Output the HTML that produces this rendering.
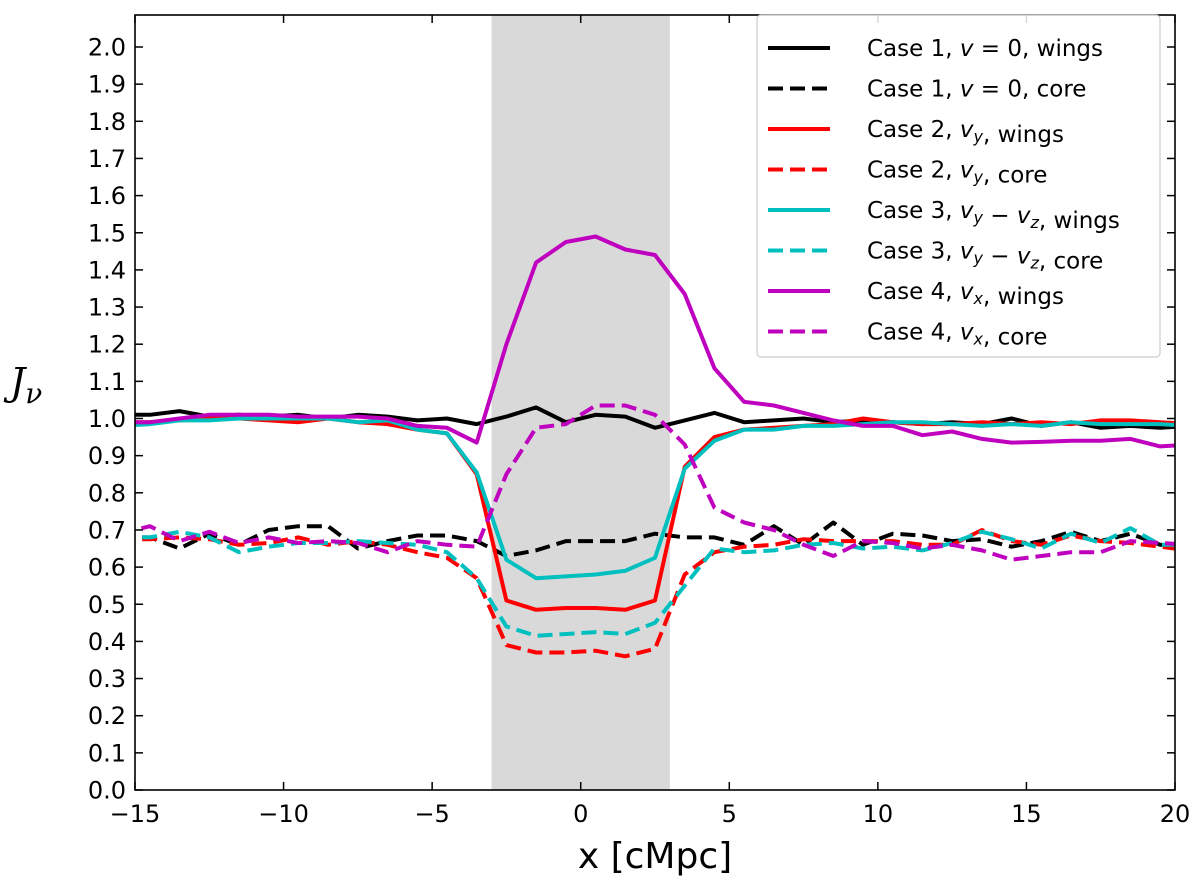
<!DOCTYPE html>
<html><head><meta charset="utf-8"><style>
body{margin:0;background:#fff;overflow:hidden;}
svg{display:block;font-family:"DejaVu Sans","Liberation Sans",sans-serif;}
</style></head><body>
<svg id="chart" width="1200" height="883" viewBox="0 0 1200 883"></svg>
<script>
const xs=[-15.5,-14.5,-13.5,-12.5,-11.5,-10.5,-9.5,-8.5,-7.5,-6.5,-5.5,-4.5,-3.5,-2.5,-1.5,-0.5,0.5,1.5,2.5,3.5,4.5,5.5,6.5,7.5,8.5,9.5,10.5,11.5,12.5,13.5,14.5,15.5,16.5,17.5,18.5,19.5,20.5];
const c1w=[1.01,1.01,1.02,1.005,1.01,1.005,1.01,1.0,1.01,1.005,0.995,1.0,0.985,1.005,1.03,0.99,1.01,1.005,0.975,0.995,1.015,0.99,0.995,1.0,0.99,0.995,0.99,0.985,0.99,0.985,1.0,0.98,0.99,0.975,0.98,0.975,0.98];
const c1c=[0.68,0.68,0.65,0.69,0.66,0.70,0.71,0.71,0.65,0.67,0.685,0.685,0.67,0.63,0.645,0.67,0.67,0.67,0.69,0.68,0.68,0.66,0.71,0.66,0.72,0.66,0.69,0.685,0.67,0.675,0.655,0.67,0.695,0.67,0.69,0.66,0.655];
const c2w=[0.99,0.99,0.995,1.0,1.0,0.995,0.99,1.0,0.99,0.985,0.97,0.96,0.85,0.51,0.485,0.49,0.49,0.485,0.51,0.87,0.95,0.97,0.975,0.98,0.985,1.0,0.99,0.985,0.985,0.99,0.985,0.99,0.985,0.995,0.995,0.99,0.985];
const c2c=[0.675,0.675,0.68,0.675,0.66,0.665,0.68,0.66,0.67,0.66,0.64,0.625,0.57,0.39,0.37,0.37,0.375,0.36,0.38,0.58,0.64,0.655,0.66,0.675,0.67,0.67,0.67,0.66,0.66,0.70,0.67,0.66,0.685,0.67,0.665,0.655,0.645];
const c3w=[0.98,0.985,0.995,0.995,1.0,1.0,1.0,1.0,0.99,0.995,0.97,0.96,0.855,0.62,0.57,0.575,0.58,0.59,0.625,0.865,0.94,0.97,0.97,0.98,0.98,0.985,0.99,0.99,0.985,0.98,0.985,0.98,0.99,0.985,0.985,0.985,0.98];
const c3c=[0.68,0.68,0.695,0.68,0.64,0.655,0.665,0.665,0.67,0.665,0.66,0.64,0.57,0.44,0.415,0.42,0.425,0.42,0.45,0.55,0.65,0.64,0.645,0.66,0.665,0.65,0.655,0.645,0.665,0.695,0.675,0.65,0.69,0.665,0.705,0.66,0.66];
const c4w=[0.99,0.99,1.0,1.01,1.01,1.01,1.005,1.005,1.005,1.0,0.98,0.975,0.935,1.2,1.42,1.475,1.49,1.455,1.44,1.335,1.135,1.045,1.035,1.015,0.995,0.98,0.98,0.955,0.965,0.945,0.935,0.937,0.94,0.94,0.945,0.925,0.93];
const c4c=[0.69,0.71,0.67,0.695,0.665,0.68,0.665,0.67,0.665,0.64,0.67,0.66,0.655,0.85,0.975,0.985,1.035,1.035,1.01,0.93,0.76,0.72,0.70,0.66,0.63,0.67,0.665,0.65,0.66,0.645,0.62,0.63,0.64,0.64,0.67,0.665,0.66];
const xTicks=[-15,-10,-5,0,5,10,15,20];
const xTickLabels=["\u221215","\u221210","\u22125","0","5","10","15","20"];
const yTicks=[0,0.1,0.2,0.3,0.4,0.5,0.6,0.7,0.8,0.9,1.0,1.1,1.2,1.3,1.4,1.5,1.6,1.7,1.8,1.9,2.0];
const shade=[-3,3];
const legendLabels=[['Case 1, ','v = 0',', wings'],['Case 1, ','v = 0',', core'],['Case 2, ','v_y',', wings'],['Case 2, ','v_y',', core'],['Case 3, ','v_y − v_z',', wings'],['Case 3, ','v_y − v_z',', core'],['Case 4, ','v_x',', wings'],['Case 4, ','v_x',', core']];

const L=135,R=1175,T=15,B=790;
const X=v=>L+(v+15)*(R-L)/35;
const Y=v=>B-v*371.5;
const svg=document.getElementById('chart');
const NS='http://www.w3.org/2000/svg';
function mk(t,a,p){const e=document.createElementNS(NS,t);for(const k in a)e.setAttribute(k,a[k]);(p||svg).appendChild(e);return e;}
const defs=mk('defs',{});const cp=mk('clipPath',{id:'cp'},defs);mk('rect',{x:L,y:T,width:R-L,height:B-T},cp);
const sh=mk('rect',{x:X(shade[0]),y:T,width:X(shade[1])-X(shade[0]),height:B-T,fill:'#d9d9d9'});


const series=[[c1w,'#000',false,'case1-wings'],[c1c,'#000',true,'case1-core'],[c2w,'#ff0000',false,'case2-wings'],[c2c,'#ff0000',true,'case2-core'],[c3w,'#00bfbf',false,'case3-wings'],[c3c,'#00bfbf',true,'case3-core'],[c4w,'#bf00bf',false,'case4-wings'],[c4c,'#bf00bf',true,'case4-core']];
const g=mk('g',{'clip-path':'url(#cp)'});
series.forEach(s=>{
  const d=s[0].map((v,i)=>(i?'L':'M')+X(xs[i]).toFixed(1)+','+Y(v).toFixed(1)).join('');
  const p=mk('path',{d:d,fill:'none',stroke:s[1],'stroke-width':4,'stroke-linejoin':'round','stroke-dasharray':s[2]?'15,7':'none'},g);
  
  
});
const fr=mk('rect',{x:L,y:T,width:R-L,height:B-T,fill:'none',stroke:'#000','stroke-width':1.6});


xTicks.forEach((v,i)=>{
  mk('line',{x1:X(v),x2:X(v),y1:B,y2:B-8,stroke:'#000','stroke-width':1.5});
  mk('line',{x1:X(v),x2:X(v),y1:T,y2:T+8,stroke:'#000','stroke-width':1.5});
  const t=mk('text',{x:X(v),y:B+32,'font-size':24,'text-anchor':'middle'});t.textContent=xTickLabels[i];
  
  
});
yTicks.forEach(v=>{
  mk('line',{x1:L,x2:L+8,y1:Y(v),y2:Y(v),stroke:'#000','stroke-width':1.5});
  mk('line',{x1:R,x2:R-8,y1:Y(v),y2:Y(v),stroke:'#000','stroke-width':1.5});
  const t=mk('text',{x:L-9,y:Y(v)+8.5,'font-size':24,'text-anchor':'end'});t.textContent=v.toFixed(1);
  
  
});
const xl=mk('text',{x:655,y:868,'font-size':36,'text-anchor':'middle'});xl.textContent='x [cMpc]';


const yl=mk('text',{x:10,y:395,'font-size':38,'font-style':'italic','font-family':'DejaVu Serif, serif'});yl.innerHTML='J<tspan font-size="28" dy="8">ν</tspan>';


const lg=mk('g',{});


mk('rect',{x:757,y:15,width:403,height:342,rx:4,fill:'#fff','fill-opacity':0.85,stroke:'#ccc','stroke-width':1.2},lg);
legendLabels.forEach((lab,i)=>{
  const y=48+i*40.5;const s=series[i];
  const e=mk('g',{},lg);
  
  
  mk('line',{x1:768,x2:830,y1:y,y2:y,stroke:s[1],'stroke-width':4,'stroke-dasharray':s[2]?'15,7':'none'},e);
  const t=mk('text',{x:867,y:y+8,'font-size':23},e);
  let mid=lab[1];
  let html=lab[0];
  if(mid==='v = 0')html+='<tspan font-style="italic">v</tspan> = 0';
  else{
    html+=mid.split(' − ').map(p=>{const [a,b]=p.split('_');return '<tspan font-style="italic">'+a+'</tspan><tspan font-style="italic" font-size="16" dy="5">'+b+'</tspan><tspan dy="-5"></tspan>';}).join(' − ');
  }
  html+=lab[2];
  t.innerHTML=html;
});
</script>
</body></html>
